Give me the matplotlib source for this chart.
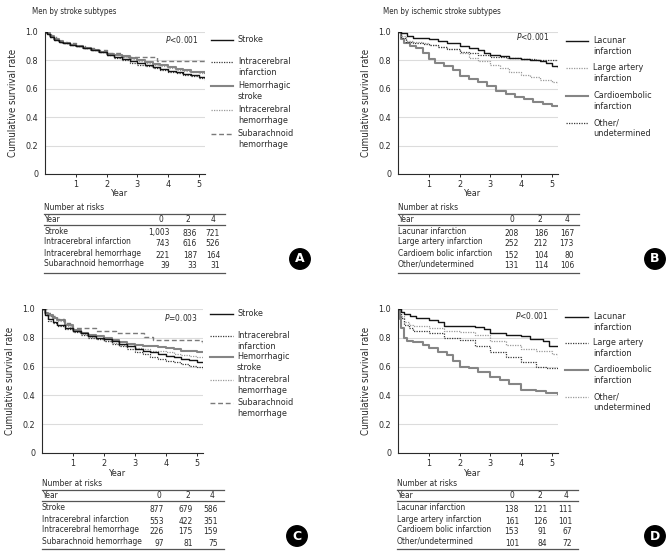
import matplotlib
matplotlib.use('Agg')
import matplotlib.pyplot as plt
from matplotlib.lines import Line2D

plt.rcParams['font.family'] = ['DejaVu Sans']
plt.rcParams['font.stretch'] = 'condensed'
plt.rcParams['mathtext.fontset'] = 'custom'
plt.rcParams['mathtext.it'] = 'DejaVu Sans:italic'
plt.rcParams['mathtext.rm'] = 'DejaVu Sans'

W, H = 668, 558
FS = 6.0

# ---------------- panel A: men by stroke subtypes ----------------
a_t = [0, 0.05, 0.15, 0.3, 0.45, 0.6, 0.8, 1.0, 1.25, 1.5, 1.75, 2.0, 2.25, 2.5,
       2.75, 3.0, 3.25, 3.5, 3.75, 4.0, 4.25, 4.5, 4.75, 5.0, 5.2]
a_stroke = [1.0, 0.985, 0.965, 0.945, 0.93, 0.92, 0.91, 0.90, 0.89, 0.875, 0.86, 0.84,
            0.825, 0.81, 0.795, 0.78, 0.77, 0.755, 0.74, 0.728, 0.715, 0.705, 0.695, 0.685, 0.675]
a_infarct = [1.0, 0.985, 0.965, 0.945, 0.93, 0.92, 0.905, 0.90, 0.89, 0.875, 0.86, 0.84,
             0.82, 0.805, 0.785, 0.77, 0.76, 0.745, 0.73, 0.72, 0.71, 0.70, 0.69, 0.675, 0.665]
a_hemor = [1.0, 0.99, 0.97, 0.95, 0.935, 0.92, 0.91, 0.90, 0.89, 0.875, 0.86, 0.845,
           0.84, 0.83, 0.815, 0.80, 0.79, 0.775, 0.765, 0.75, 0.74, 0.73, 0.72, 0.72, 0.71]
a_ich = [1.0, 0.99, 0.97, 0.95, 0.935, 0.92, 0.91, 0.90, 0.89, 0.875, 0.86, 0.845,
         0.84, 0.825, 0.81, 0.795, 0.785, 0.77, 0.76, 0.745, 0.735, 0.725, 0.715, 0.71, 0.70]
a_sah_t = [0, 0.2, 0.35, 0.5, 0.7, 1.0, 1.3, 1.6, 2.0, 2.5, 3.65, 5.2]
a_sah = [1.0, 0.97, 0.95, 0.93, 0.92, 0.90, 0.89, 0.87, 0.85, 0.825, 0.795, 0.795]

# ---------------- panel B: men by ischemic stroke subtypes ----------------
b_lac_t = [0, 0.1, 0.3, 0.5, 0.8, 1.0, 1.3, 1.6, 2.0, 2.3, 2.6, 2.8, 3.0, 3.3, 3.6,
           4.0, 4.3, 4.6, 4.8, 5.0, 5.2]
b_lac = [1.0, 0.99, 0.975, 0.96, 0.955, 0.95, 0.935, 0.92, 0.90, 0.89, 0.875, 0.855,
         0.84, 0.83, 0.82, 0.81, 0.805, 0.795, 0.78, 0.76, 0.75]
b_large_t = [0, 0.1, 0.25, 0.5, 0.8, 1.0, 1.3, 1.6, 2.0, 2.3, 2.6, 3.0, 3.3, 3.6, 4.0,
             4.3, 4.6, 5.0, 5.2]
b_large = [1.0, 0.97, 0.94, 0.93, 0.92, 0.91, 0.895, 0.88, 0.855, 0.82, 0.795, 0.765,
           0.745, 0.72, 0.70, 0.685, 0.665, 0.645, 0.63]
b_card_t = [0, 0.1, 0.2, 0.4, 0.6, 0.8, 1.0, 1.2, 1.5, 1.8, 2.0, 2.3, 2.6, 2.9, 3.2,
            3.5, 3.8, 4.1, 4.4, 4.7, 5.0, 5.2]
b_card = [1.0, 0.95, 0.92, 0.90, 0.885, 0.85, 0.81, 0.785, 0.76, 0.73, 0.69, 0.67, 0.65,
          0.62, 0.585, 0.565, 0.545, 0.525, 0.505, 0.49, 0.482, 0.48]
b_other_t = [0, 0.1, 0.25, 0.5, 0.8, 1.0, 1.3, 1.6, 2.0, 2.3, 2.6, 3.0, 3.5, 4.0, 4.5, 5.0, 5.2]
b_other = [1.0, 0.96, 0.93, 0.92, 0.915, 0.905, 0.895, 0.88, 0.86, 0.85, 0.835, 0.825,
           0.815, 0.81, 0.805, 0.80, 0.80]

# ---------------- panel C ----------------
c_t = [0, 0.1, 0.2, 0.35, 0.5, 0.75, 1.0, 1.25, 1.5, 1.75, 2.0, 2.25, 2.5, 2.75, 3.0,
       3.25, 3.5, 3.75, 4.0, 4.25, 4.5, 4.75, 5.0, 5.2]
c_stroke = [1.0, 0.96, 0.93, 0.91, 0.89, 0.87, 0.85, 0.83, 0.815, 0.80, 0.79, 0.775, 0.76,
            0.74, 0.72, 0.71, 0.70, 0.69, 0.675, 0.665, 0.655, 0.645, 0.635, 0.63]
c_infarct = [1.0, 0.955, 0.92, 0.90, 0.88, 0.86, 0.84, 0.82, 0.80, 0.79, 0.78, 0.76, 0.74,
             0.72, 0.70, 0.685, 0.67, 0.655, 0.64, 0.63, 0.62, 0.605, 0.595, 0.585]
c_hemor = [1.0, 0.975, 0.955, 0.94, 0.925, 0.89, 0.855, 0.835, 0.82, 0.81, 0.80, 0.785,
           0.77, 0.76, 0.75, 0.745, 0.74, 0.735, 0.73, 0.72, 0.71, 0.705, 0.70, 0.70]
c_ich = [1.0, 0.975, 0.95, 0.935, 0.92, 0.885, 0.845, 0.825, 0.805, 0.79, 0.78, 0.765,
         0.75, 0.74, 0.73, 0.72, 0.71, 0.705, 0.70, 0.69, 0.68, 0.675, 0.67, 0.665]
c_sah_t = [0, 0.15, 0.3, 0.5, 0.7, 0.9, 1.75, 2.4, 3.3, 3.6, 5.1, 5.2]
c_sah = [1.0, 0.97, 0.95, 0.93, 0.90, 0.865, 0.85, 0.83, 0.805, 0.785, 0.78, 0.765]

# ---------------- panel D ----------------
d_lac_t = [0, 0.1, 0.2, 0.4, 0.6, 1.0, 1.3, 1.5, 2.5, 2.8, 3.0, 3.5, 4.0, 4.3, 4.7, 4.9, 5.2]
d_lac = [1.0, 0.98, 0.965, 0.95, 0.935, 0.925, 0.91, 0.885, 0.875, 0.86, 0.83, 0.82,
         0.81, 0.795, 0.78, 0.745, 0.745]
d_large_t = [0, 0.1, 0.2, 0.35, 0.5, 1.0, 1.5, 2.0, 2.5, 3.0, 3.5, 4.0, 4.5, 4.8, 5.2]
d_large = [1.0, 0.94, 0.89, 0.865, 0.85, 0.83, 0.80, 0.785, 0.745, 0.70, 0.665, 0.63,
           0.60, 0.59, 0.58]
d_card_t = [0, 0.05, 0.1, 0.2, 0.3, 0.5, 0.8, 1.0, 1.3, 1.6, 1.8, 2.0, 2.3, 2.6, 3.0,
            3.3, 3.6, 4.0, 4.5, 4.8, 5.2]
d_card = [1.0, 0.93, 0.87, 0.80, 0.78, 0.77, 0.75, 0.73, 0.70, 0.68, 0.64, 0.60, 0.59,
          0.565, 0.53, 0.51, 0.48, 0.44, 0.43, 0.415, 0.41]
d_other_t = [0, 0.1, 0.2, 0.35, 0.5, 1.0, 1.5, 2.0, 2.5, 3.0, 3.5, 4.0, 4.5, 5.0, 5.2]
d_other = [1.0, 0.95, 0.91, 0.89, 0.88, 0.865, 0.85, 0.84, 0.82, 0.78, 0.75, 0.72, 0.71,
           0.69, 0.655]

# labels and number at risk tables
stroke_labels = ['Stroke', 'Intracerebral\ninfarction', 'Hemorrhagic\nstroke',
                 'Intracerebral\nhemorrhage', 'Subarachnoid\nhemorrhage']
isch_labels = ['Lacunar\ninfarction', 'Large artery\ninfarction', 'Cardioembolic\ninfarction',
               'Other/\nundetermined']
risk_years = ['0', '2', '4']
stroke_rows = ['Stroke', 'Intracerebral infarction', 'Intracerebral hemorrhage',
               'Subarachnoid hemorrhage']
isch_rows = ['Lacunar infarction', 'Large artery infarction', 'Cardioem bolic infarction',
             'Other/undetermined']
a_risk = [['1,003', '836', '721'], ['743', '616', '526'], ['221', '187', '164'], ['39', '33', '31']]
b_risk = [['208', '186', '167'], ['252', '212', '173'], ['152', '104', '80'], ['131', '114', '106']]
c_risk = [['877', '679', '586'], ['553', '422', '351'], ['226', '175', '159'], ['97', '81', '75']]
d_risk = [['138', '121', '111'], ['161', '126', '101'], ['153', '91', '67'], ['101', '84', '72']]

# line styles
BLACK = dict(color='#151515', lw=1.0, ls='-')
DKDOT = dict(color='#3a3a3a', lw=0.9, ls=(0, (1, 1)))
GRAY = dict(color='#858585', lw=1.5, ls='-')
LTDOT = dict(color='#9a9a9a', lw=0.9, ls=(0, (1, 1)))
DASH = dict(color='#7a7a7a', lw=1.0, ls=(0, (3.5, 2)))
TXT = '#2a2a2a'


def fx(x):
    return x / W


def fy(y):
    return 1 - y / H


fig = plt.figure(figsize=(W / 100, H / 100), dpi=100)
fig.patch.set_facecolor('white')


def km_axes(px_left, px_top, px_right, px_bottom, curves, ptext, pxy, year_y):
    ax = fig.add_axes([fx(px_left), fy(px_bottom), fx(px_right - px_left),
                       (px_bottom - px_top) / H])
    for t, s, st in curves:
        ax.plot(t, s, drawstyle='steps-post', **st)
    ax.set_xlim(0, 5.2)
    ax.set_ylim(0, 1.0)
    ax.set_xticks([1, 2, 3, 4, 5])
    ax.set_yticks([0, 0.2, 0.4, 0.6, 0.8, 1.0])
    ax.set_yticklabels(['0', '0.2', '0.4', '0.6', '0.8', '1.0'])
    ax.yaxis.grid(True, color='#dcdcdc', lw=0.8)
    ax.set_axisbelow(True)
    for sp in ['top', 'right']:
        ax.spines[sp].set_visible(False)
    for sp in ['left', 'bottom']:
        ax.spines[sp].set_color(TXT)
        ax.spines[sp].set_linewidth(0.8)
    ax.tick_params(axis='y', length=0, pad=5, labelsize=FS + 0.5, colors=TXT)
    ax.tick_params(axis='x', length=2.5, width=0.7, direction='out', pad=2,
                   labelsize=FS + 0.5, colors=TXT)
    ax.text(pxy[0], pxy[1], ptext, transform=ax.transAxes, ha='right', va='center',
            fontsize=FS, color=TXT)
    fig.text(fx((px_left + px_right) / 2 - 5), fy(year_y), 'Year', ha='center',
             va='center', fontsize=FS + 0.5, color=TXT)
    fig.text(fx(px_left - 32), fy((px_top + px_bottom) / 2), 'Cumulative survival rate',
             rotation=90, ha='center', va='center', fontsize=FS + 1, color=TXT)
    return ax


def legend(styles, labels, x0, x1, xt, ys):
    for st, lab, y in zip(styles, labels, ys):
        fig.add_artist(Line2D([fx(x0), fx(x1)], [fy(y), fy(y)], transform=fig.transFigure,
                              color=st['color'], lw=st['lw'], ls=st['ls']))
        fig.text(fx(xt), fy(y - 5), lab, ha='left', va='top', fontsize=FS + 0.5,
                 linespacing=1.3, color=TXT)


def risk_table(x0, x1, top, rows, values, hdr_x, num_x, row_ys, bottom):
    fig.text(fx(x0), fy(top), 'Number at risks', ha='left', va='center', fontsize=FS,
             color=TXT)
    for y in (top + 6, top + 17, bottom):
        fig.add_artist(Line2D([fx(x0), fx(x1)], [fy(y), fy(y)], transform=fig.transFigure,
                              color='#555555', lw=0.9))
    fig.text(fx(x0), fy(top + 12), 'Year', ha='left', va='center', fontsize=FS, color=TXT)
    for hx, lab in zip(hdr_x, risk_years):
        fig.text(fx(hx), fy(top + 12), lab, ha='center', va='center', fontsize=FS,
                 color=TXT)
    for ry, name, vals in zip(row_ys, rows, values):
        fig.text(fx(x0), fy(ry - 1), name, ha='left', va='center', fontsize=FS, color=TXT)
        for nx, v in zip(num_x, vals):
            fig.text(fx(nx), fy(ry + 1), v, ha='right', va='center', fontsize=FS,
                     color=TXT)


def badge(x, y, letter):
    fig.text(fx(x), fy(y), letter, ha='center', va='center', fontsize=9,
             fontweight='bold', color='white', family='DejaVu Sans', fontstretch='normal',
             bbox=dict(boxstyle='circle,pad=0.3', fc='black', ec='black'))


# panel A
km_axes(45, 32, 205, 174,
        [(a_t, a_ich, LTDOT), (a_t, a_hemor, GRAY), (a_sah_t, a_sah, DASH),
         (a_t, a_infarct, DKDOT), (a_t, a_stroke, BLACK)],
        '$\\it{P}$<0.001', (0.96, 0.95), 193)
fig.text(fx(32), fy(12), 'Men by stroke subtypes', ha='left', va='center',
         fontsize=FS - 0.3, color=TXT)
legend([BLACK, DKDOT, GRAY, LTDOT, DASH], stroke_labels, 211, 233, 238,
       [40, 62, 86, 110, 134])
risk_table(44, 225, 208, stroke_rows, a_risk, [161, 188, 213], [170, 197, 220],
           [232, 243, 254, 265], 273)
badge(300, 259, 'A')

# panel B
km_axes(398, 32, 558, 174,
        [(b_large_t, b_large, LTDOT), (b_card_t, b_card, GRAY), (b_other_t, b_other, DKDOT),
         (b_lac_t, b_lac, BLACK)],
        '$\\it{P}$<0.001', (0.95, 0.965), 193)
fig.text(fx(383), fy(12), 'Men by ischemic stroke subtypes', ha='left', va='center',
         fontsize=FS - 0.3, color=TXT)
legend([BLACK, LTDOT, GRAY, DKDOT], isch_labels, 566, 588, 593, [41, 68, 96, 123])
risk_table(398, 579, 208, isch_rows, b_risk, [512, 540, 567], [519, 548, 574],
           [232, 243, 254, 265], 273)
badge(655, 259, 'B')

# panel C
km_axes(42, 309, 203, 453,
        [(c_t, c_ich, LTDOT), (c_t, c_hemor, GRAY), (c_sah_t, c_sah, DASH),
         (c_t, c_infarct, DKDOT), (c_t, c_stroke, BLACK)],
        '$\\it{P}$=0.003', (0.97, 0.944), 473)
legend([BLACK, DKDOT, GRAY, LTDOT, DASH], stroke_labels, 210, 233, 237,
       [314, 336, 357, 380, 403])
risk_table(42, 224, 484, stroke_rows, c_risk, [159, 188, 212], [164, 193, 218],
           [508, 520, 531, 542], 549)
badge(297, 536, 'C')

# panel D
km_axes(398, 309, 558, 453,
        [(d_other_t, d_other, LTDOT), (d_card_t, d_card, GRAY), (d_large_t, d_large, DKDOT),
         (d_lac_t, d_lac, BLACK)],
        '$\\it{P}$<0.001', (0.944, 0.958), 473)
legend([BLACK, DKDOT, GRAY, LTDOT], isch_labels, 565, 588, 593, [317, 343, 370, 397])
risk_table(397, 578, 484, isch_rows, d_risk, [512, 540, 566], [519, 547, 572],
           [508, 520, 531, 542], 549)
badge(655, 536, 'D')

fig.savefig('out.png', dpi=100, facecolor='white')
